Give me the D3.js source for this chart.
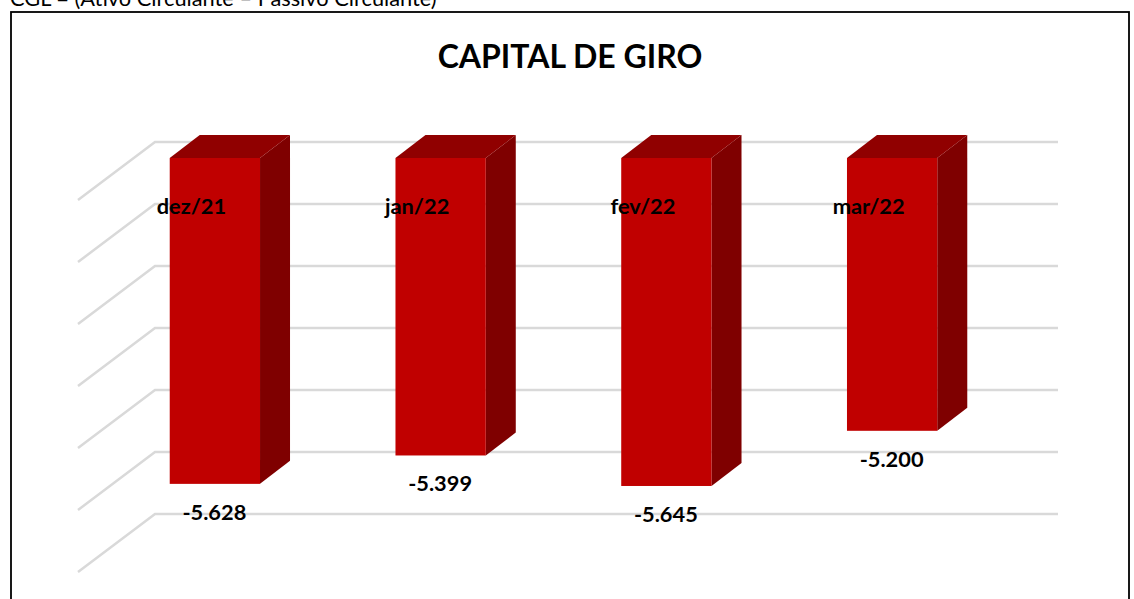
<!DOCTYPE html>
<html><head><meta charset="utf-8">
<script src="https://cdn.jsdelivr.net/npm/d3@7/dist/d3.min.js"></script>
<style>html,body{margin:0;padding:0;background:#fff;overflow:hidden}svg{display:block}text{font-family:Lato,"Open Sans",sans-serif;fill:#000}</style>
</head><body><svg id="c" width="1134" height="599"></svg>
<script>
const categories = ["dez/21","jan/22","fev/22","mar/22"];
const values = [-5628,-5399,-5645,-5200];
const tickValues = [-3000,-3500,-4000,-4500,-5000,-5500,-6000];
const captionText = "CGL = (Ativo Circulante – Passivo Circulante)";
const titleText = "CAPITAL DE GIRO";

const W=1134,H=599;
const svg=d3.select("#c");
const fmt=d3.formatLocale({decimal:",",thousands:".",grouping:[3],currency:["R$",""],minus:"-"}).format(",d");

const x=d3.scaleBand().domain(categories).range([102,1005]).paddingInner(0.6).paddingOuter(0.3);
const yFront=d3.scaleLinear().domain([-3000,-6000]).range([158,530]);
const yBack=d3.scaleLinear().domain([-3000,-6000]).range([142,514]);
const depthX=30,depthY=23;
const wallL=155,wallR=1058,floorX=78,floorY=58;

svg.append("text").attr("x",10).attr("y",6).attr("font-size",21.8).text(captionText);
svg.append("rect").attr("x",11).attr("y",12).attr("width",1118).attr("height",H+20).attr("fill","#fff").attr("stroke","#000").attr("stroke-width",1.8);

svg.append("text").attr("x",570).attr("y",68).attr("text-anchor","middle").attr("font-size",32).attr("font-weight",700).text(titleText);

svg.append("g").selectAll("polyline").data(tickValues).join("polyline")
  .attr("fill","none").attr("stroke","#d9d9d9").attr("stroke-width",2.5)
  .attr("points",d=>[[floorX,yBack(d)+floorY],[wallL,yBack(d)],[wallR,yBack(d)]].join(" "));

const bars=svg.append("g").selectAll("g").data(categories.map((c,i)=>({c,v:values[i]}))).join("g");
const top0=-3000;
bars.append("polygon").attr("fill","#7f0000").attr("points",d=>{
  const r=x(d.c)+x.bandwidth(),t=yFront(top0),b=yFront(d.v);
  return [[r,t],[r+depthX,t-depthY],[r+depthX,b-depthY],[r,b]].join(" ");});
bars.append("polygon").attr("fill","#900000").attr("points",d=>{
  const l=x(d.c),r=l+x.bandwidth(),t=yFront(top0);
  return [[l,t],[l+depthX,t-depthY],[r+depthX,t-depthY],[r,t]].join(" ");});
bars.append("rect").attr("fill","#c00000")
  .attr("x",d=>x(d.c)).attr("width",x.bandwidth())
  .attr("y",yFront(top0)).attr("height",d=>yFront(d.v)-yFront(top0));

bars.append("text").attr("text-anchor","middle").attr("font-size",21.8).attr("font-weight",700)
  .attr("x",d=>x(d.c)+x.bandwidth()/2-23.5).attr("y",214).text(d=>d.c);
bars.append("text").attr("text-anchor","middle").attr("font-size",21.8).attr("font-weight",700)
  .attr("x",d=>x(d.c)+x.bandwidth()/2-0.5).attr("y",d=>yFront(d.v)+36).text(d=>fmt(d.v));
</script></body></html>
